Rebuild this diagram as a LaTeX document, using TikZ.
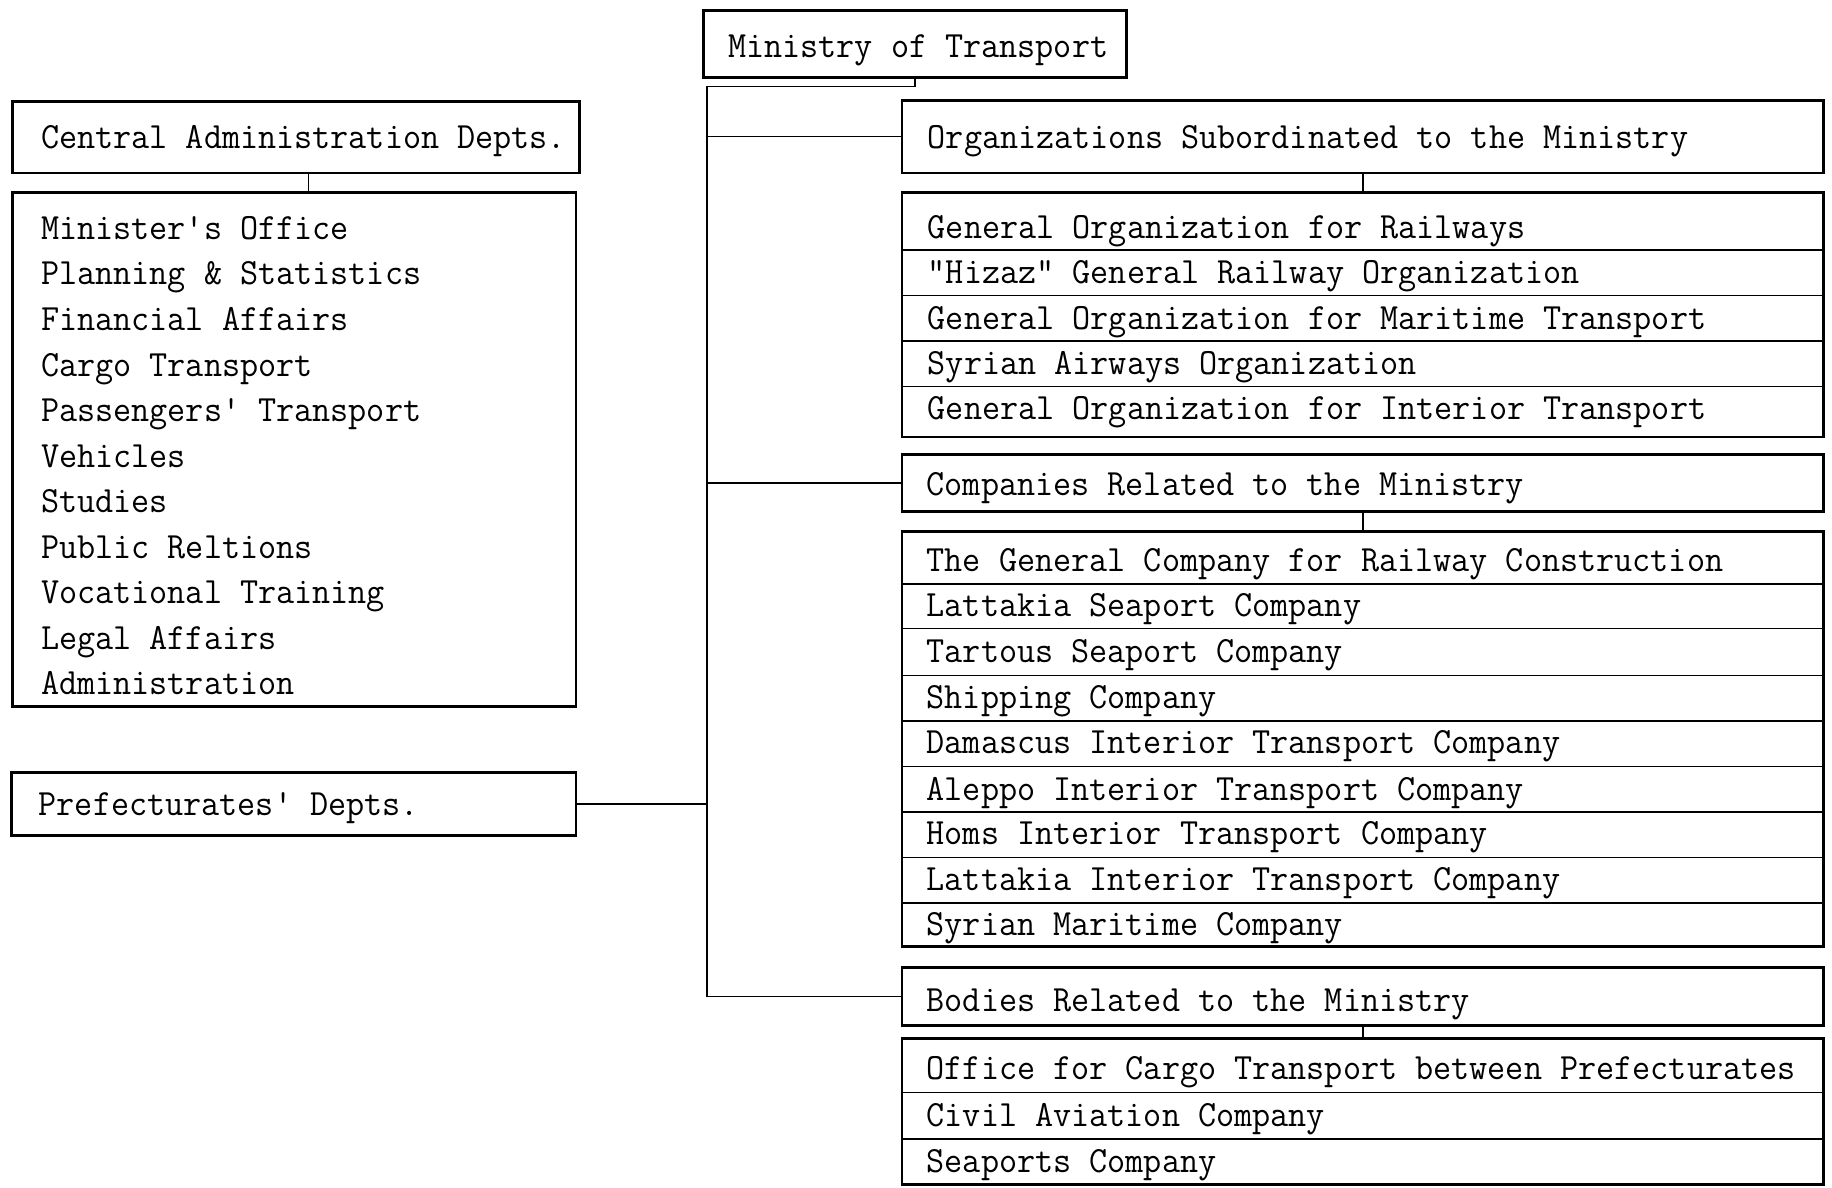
\documentclass[tikz,border=0pt]{standalone}
\usepackage{fontspec}
\setmonofont{Latin Modern Mono}[FakeStretch=0.95]
\usetikzlibrary{fit,calc}
\begin{document}
\begin{tikzpicture}[x=1.1684pt,y=-1.1684pt,
  box/.style={draw, line width=2.8pt, inner sep=0pt},
  txt/.style={font=\ttfamily\fontsize{37}{40}\selectfont, inner sep=0pt, anchor=west, text height=0.62em, text depth=0.2em, yshift=-8.2pt},
  conn/.style={line width=1.4pt},
  divl/.style={line width=1.4pt}]
\useasboundingbox (0,0) rectangle (1568,1016);

% top
\node[box, fit={(602,9)(964,66)}] (min) {};
\node[txt] (mint) at (623,40) {Ministry of Transport};

% left side
\node[box, fit={(11,87)(496,148)}] (cad) {};
\node[txt] (cadt) at (35,118) {Central Administration Depts.};
\node[box, fit={(11,165)(493,605)}] (cal) {};
\foreach \t [count=\i from 0] in {Minister's Office, Planning \& Statistics, Financial Affairs, Cargo Transport, Passengers' Transport, Vehicles, Studies, Public Reltions, Vocational Training, Legal Affairs, Administration}
  \node[txt] (cal\i) at (35,{196+\i*39}) {\t};
\node[box, fit={(10,661)(493,715)}] (pre) {};
\node[txt] (pret) at (33,689) {Prefecturates' Depts.};

% right side: organizations
\node[box, fit={(772,86)(1561,148)}] (org) {};
\node[txt] (orgt) at (794,118) {Organizations Subordinated to the Ministry};
\node[box, fit={(772,165)(1561,374)}] (orl) {};
\foreach \y in {214,253,292,331} \draw[divl] (772,\y) -- (1561,\y);
\foreach \t/\y [count=\i] in {General Organization for Railways/195, "Hizaz" General Railway Organization/234, General Organization for Maritime Transport/273, Syrian Airways Organization/312, General Organization for Interior Transport/350}
  \node[txt] (orl\i) at (794,\y) {\t};

% companies
\node[box, fit={(772,389)(1561,438)}] (com) {};
\node[txt] (comt) at (793,415) {Companies Related to the Ministry};
\node[box, fit={(772,455)(1561,810)}] (col) {};
\foreach \y in {500,538,578,617,656,695,734,773} \draw[divl] (772,\y) -- (1561,\y);
\foreach \t/\y [count=\i] in {The General Company for Railway Construction/480, Lattakia Seaport Company/519, Tartous Seaport Company/558, Shipping Company/598, Damascus Interior Transport Company/636, Aleppo Interior Transport Company/676, Homs Interior Transport Company/714, Lattakia Interior Transport Company/753, Syrian Maritime Company/792}
  \node[txt] (col\i) at (793,\y) {\t};

% bodies
\node[box, fit={(772,828)(1561,878)}] (bod) {};
\node[txt] (bodt) at (793,857) {Bodies Related to the Ministry};
\node[box, fit={(772,889)(1561,1014)}] (bol) {};
\foreach \y in {935,975} \draw[divl] (772,\y) -- (1561,\y);
\foreach \t/\y [count=\i] in {Office for Cargo Transport between Prefecturates/915, Civil Aviation Company/955, Seaports Company/995}
  \node[txt] (bol\i) at (793,\y) {\t};

% connectors
\coordinate (j0) at (605,74);
\coordinate (cx) at (264,0);
\draw[conn] (min.south) |- (j0);
\draw[conn] (j0) |- (bod.west);
\draw[conn] ($(cad.east)+(0,-9)$) -- ($(cad.east)+(0,-9)$ -| j0);
\draw[conn] (org.west) -- (org.west -| j0);
\draw[conn] (com.west) -- (com.west -| j0);
\draw[conn] (pre.east) -- (pre.east -| j0);
\draw[conn] (cad.south -| cx) -- (cal.north -| cx);
\draw[conn] (org.south) -- (orl.north);
\draw[conn] (com.south) -- (col.north);
\draw[conn] (bod.south) -- (bol.north);
\end{tikzpicture}
\end{document}
